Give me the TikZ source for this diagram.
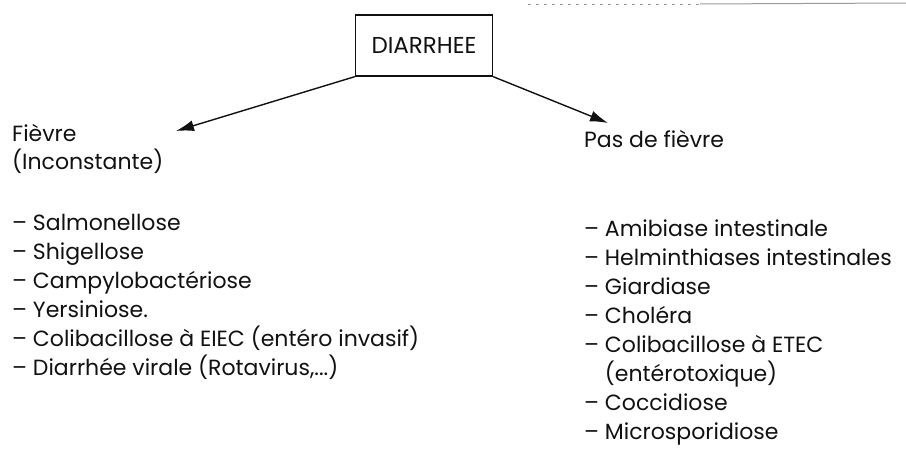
\documentclass[tikz,border=0pt]{standalone}
\usepackage{fontspec}
\setmainfont{Poppins}
\usepackage{xcolor}
\definecolor{inkDark}{HTML}{111111}
\definecolor{scanGray}{HTML}{9A9A9A}
\usetikzlibrary{positioning,calc,arrows.meta}
\newcommand{\etcDots}{...}
\tikzset{%
  titleBox/.style={%
    rectangle,
    draw=inkDark,
    line width=1.3pt,
    minimum width=137pt,
    minimum height=61pt,
    font=\fontsize{23}{26}\selectfont,
    text=inkDark
  },
  headText/.style={%
    anchor=base west,
    inner sep=0pt,
    font=\fontsize{22}{26}\selectfont,
    text=inkDark
  },
  listItem/.style={%
    anchor=base west,
    inner sep=0pt,
    font=\fontsize{22}{26}\selectfont,
    text=inkDark
  },
  arrowLine/.style={%
    -{Latex[length=18pt,width=11pt]},
    line width=1.4pt,
    color=inkDark
  },
  scanLine/.style={%
    line width=1pt,
    color=scanGray
  }
}

\begin{document}
\begin{tikzpicture}[x=1pt,y=-1pt]
  \useasboundingbox (0,0) rectangle (906,450);

  \node[titleBox] (diarrhee) at (424,45.5) {DIARRHEE};

  \node[headText] (fievre) at (12,141) {Fièvre};
  \node[headText, below=28pt of fievre.base west, anchor=base west] (inconst) {(Inconstante)};
  \node[headText] (pasFievre) at (584,147) {Pas de fièvre};

  % avec fievre
  \foreach \entry [count=\i] in {Salmonellose, Shigellose, Campylobactériose, Yersiniose., {Colibacillose à EIEC (entéro invasif)}, {Diarrhée virale (Rotavirus,\etcDots)}}
    \node[listItem] (avec\i) at (12,{230+29*(\i-1)}) {–\ \entry};

  % sans fievre
  \foreach \entry [count=\i] in {Amibiase intestinale, Helminthiases intestinales, Giardiase, Choléra, Colibacillose à ETEC}
    \node[listItem] (sans\i) at (584,{236+29*(\i-1)}) {–\ \entry};
  \node[listItem, below=29pt of sans5.base west, anchor=base west] (sans6) {\phantom{–\ }(entérotoxique)};
  \node[listItem, below=29pt of sans6.base west, anchor=base west] (sans7) {–\ Coccidiose};
  \node[listItem, below=29pt of sans7.base west, anchor=base west] (sans8) {–\ Microsporidiose};

  \coordinate (tipLeft) at (176,131);
  \coordinate (tipRight) at (608,123);
  \draw[arrowLine] (diarrhee.south west) -- (tipLeft);
  \draw[arrowLine] (diarrhee.south east) -- (tipRight);

  \draw[scanLine, dash pattern=on 3pt off 5pt] (528,4) -- (700,4);
  \draw[scanLine] (700,4) -- (906,3);
\end{tikzpicture}
\end{document}
